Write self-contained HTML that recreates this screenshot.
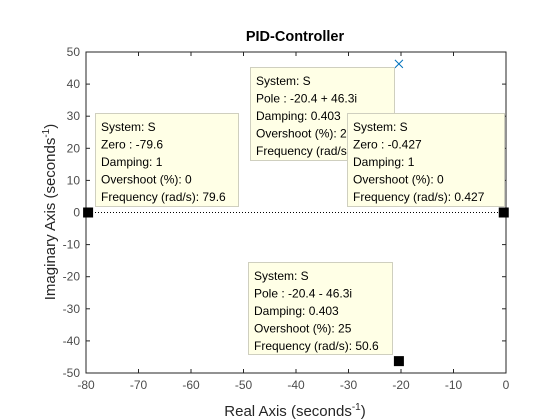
<!DOCTYPE html>
<html><head><meta charset="utf-8"><style>
html,body{margin:0;padding:0;background:#fff}
svg{display:block;font-family:"Liberation Sans",sans-serif}
</style></head><body>
<svg id="c" width="560" height="420" viewBox="0 0 560 420">
<rect width="560" height="420" fill="#fff"/>
<text x="295" y="41" text-anchor="middle" font-size="14.5" font-weight="bold" fill="#000">PID-Controller</text>
<g id="axes"></g>
<g id="marks"></g>
<g id="tips"></g>
<text x="295" y="416" text-anchor="middle" font-size="15" fill="#262626">Real Axis (seconds<tspan dy="-6" font-size="10">-1</tspan><tspan dy="6">)</tspan></text>
<text transform="translate(55,212) rotate(-90)" text-anchor="middle" font-size="15" fill="#262626">Imaginary Axis (seconds<tspan dy="-6" font-size="10">-1</tspan><tspan dy="6">)</tspan></text>
</svg>
<script>
const xTicks=[-80,-70,-60,-50,-40,-30,-20,-10,0];
const yTicks=[50,40,30,20,10,0,-10,-20,-30,-40,-50];
const polesRe=[-20.4,-20.4];
const polesIm=[46.3,-46.3];
const zerosRe=[-79.6,-0.427];
const zerosIm=[0,0];
const tipText=[
 ["System: S","Zero : -79.6","Damping: 1","Overshoot (%): 0","Frequency (rad/s): 79.6"],
 ["System: S","Pole : -20.4 + 46.3i","Damping: 0.403","Overshoot (%): 25","Frequency (rad/s): 50.6"],
 ["System: S","Zero : -0.427","Damping: 1","Overshoot (%): 0","Frequency (rad/s): 0.427"],
 ["System: S","Pole : -20.4 - 46.3i","Damping: 0.403","Overshoot (%): 25","Frequency (rad/s): 50.6"]
];
const L=86,R=506,T=52,B=373;
const xs=v=>L+(v+80)/80*(R-L);
const ys=v=>T+(50-v)/100*(B-T);
const NS="http://www.w3.org/2000/svg";
function mk(tag,attrs,parent){const e=document.createElementNS(NS,tag);for(const k in attrs)e.setAttribute(k,attrs[k]);parent.appendChild(e);return e;}
const ax=document.getElementById('axes');
const frame=mk('rect',{x:L,y:T,width:R-L,height:B-T,fill:'none',stroke:'#262626','stroke-width':1},ax);


const zl=mk('line',{x1:L,x2:R,y1:ys(0),y2:ys(0),stroke:'#000','stroke-width':1,'stroke-dasharray':'1,2'},ax);


xTicks.forEach(v=>{
 const x=xs(v);
 mk('line',{x1:x,x2:x,y1:B,y2:B-4,stroke:'#262626'},ax);
 mk('line',{x1:x,x2:x,y1:T,y2:T+4,stroke:'#262626'},ax);
 const t=mk('text',{x:x,y:B+16,'text-anchor':'middle','font-size':12,fill:'#4d4d4d'},ax);
 t.textContent=v;
 
 
});
yTicks.forEach(v=>{
 const y=ys(v);
 mk('line',{x1:L,x2:L+4,y1:y,y2:y,stroke:'#262626'},ax);
 mk('line',{x1:R,x2:R-4,y1:y,y2:y,stroke:'#262626'},ax);
 const t=mk('text',{x:L-6,y:y+4,'text-anchor':'end','font-size':12,fill:'#4d4d4d'},ax);
 t.textContent=v;
 
 
});
const mg=document.getElementById('marks');
{
 const x=xs(polesRe[0]),y=ys(polesIm[0]);
 const g=mk('path',{d:`M${x-4},${y-4}L${x+4},${y+4}M${x-4},${y+4}L${x+4},${y-4}`,stroke:'#0072bd','stroke-width':1,fill:'none'},mg);
 
 
}
const sq=[[zerosRe[0],zerosIm[0]],[zerosRe[1],zerosIm[1]],[polesRe[1],polesIm[1]]];
sq.forEach(p=>{
 const r=mk('rect',{x:xs(p[0])-5,y:ys(p[1])-5,width:10,height:10,fill:'#000'},mg);
 
 
});
const tg=document.getElementById('tips');
const boxes=[[95,113,143,93],[250,67,144,93],[347,113,157,93],[248,262,144,92]];
boxes.forEach((b,i)=>{
 const g=mk('g',{},tg);
 
 
 mk('rect',{x:b[0]+.5,y:b[1]+.5,width:b[2],height:b[3],fill:'#ffffe6',stroke:'#cfcfbf'},g);
 tipText[i].forEach((s,j)=>{
  const t=mk('text',{x:b[0]+6,y:b[1]+18+j*17.5,'font-size':12,fill:'#000'},g);
  t.textContent=s;
 });
});
</script>
</body></html>
